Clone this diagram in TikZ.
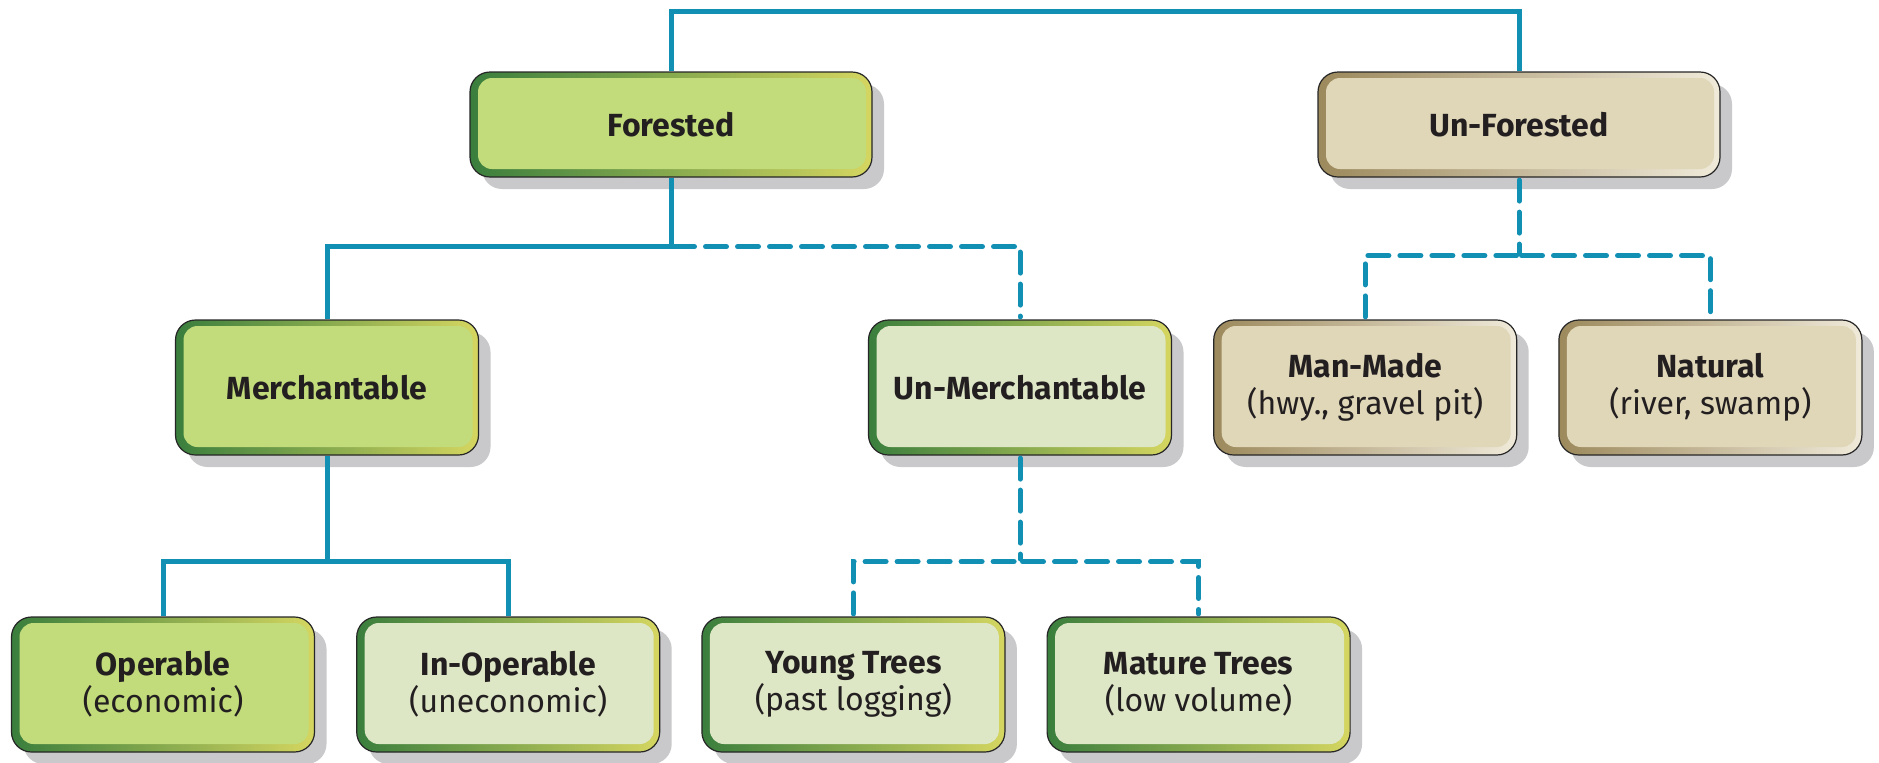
\documentclass[tikz,border=0pt]{standalone}
\usepackage{fontspec}
\setmainfont{Fira Sans}
\usetikzlibrary{positioning, shadows}
\usepackage{xcolor}

\definecolor{linkblue}{HTML}{1190B4}
\definecolor{textdark}{HTML}{231F20}
\definecolor{shadowgray}{HTML}{C9C9CB}
\definecolor{ringgreenL}{HTML}{3A7E3D}
\definecolor{ringgreenR}{HTML}{D5D660}
\definecolor{ringtanL}{HTML}{9C895C}
\definecolor{ringtanR}{HTML}{F0EADA}
\definecolor{filldark}{HTML}{C2DC7B}
\definecolor{filllight}{HTML}{DDE6C5}
\definecolor{filltan}{HTML}{E0D7B9}

\begin{document}
\begin{tikzpicture}[
    x=0.5pt, y=-0.5pt,
    node distance=20.5pt,
    box/.style={rectangle, draw=black!85, line width=0.6pt, rounded corners=10pt, inner sep=0pt, align=center,
        font=\fontsize{16}{18.5}\selectfont, text=textdark,
        drop shadow={shadow xshift=6pt, shadow yshift=-6pt, fill=shadowgray, opacity=1}},
    wide/.style={minimum width=201pt, minimum height=52.5pt},
    small/.style={minimum width=151.5pt, minimum height=67.5pt},
    inset/.style={path picture={\fill[#1, rounded corners=7pt]
        ([xshift=4pt,yshift=4pt]path picture bounding box.south west) rectangle
        ([xshift=-3pt,yshift=-3pt]path picture bounding box.north east);}},
    darkbox/.style={box, left color=ringgreenL, right color=ringgreenR, inset=filldark},
    lightbox/.style={box, left color=ringgreenL, right color=ringgreenR, inset=filllight},
    tanbox/.style={box, left color=ringtanL, right color=ringtanR, inset=filltan},
    line/.style={draw=linkblue, line width=2.5pt},
    dashline/.style={line, line cap=round, dash pattern=on 10.5pt off 5.5pt, shorten >=1.25pt, shorten <=1.25pt}
]
\useasboundingbox (0,0) rectangle (1879,762);

% top level
\node[darkbox, wide] (forested) at (671,124.5) {\bfseries Forested};
\node[tanbox, wide] (unforested) at (1519,124.5) {\bfseries Un-Forested};

% middle level
\node[darkbox, small] (merch) at (327,387.5) {\bfseries Merchantable};
\node[lightbox, small] (unmerch) at (1020,387.5) {\bfseries Un-Merchantable};
\node[tanbox, small, right=of unmerch] (manmade) {\textbf{Man-Made}\\(hwy., gravel pit)};
\node[tanbox, small, right=of manmade] (natural) {\textbf{Natural}\\(river, swamp)};

% bottom level
\node[darkbox, small] (operable) at (163,684.5) {\textbf{Operable}\\(economic)};
\node[lightbox, small, right=of operable] (inoperable) {\textbf{In-Operable}\\(uneconomic)};
\node[lightbox, small, right=of inoperable] (young) {\textbf{Young Trees}\\(past logging)};
\node[lightbox, small, right=of young] (mature) {\textbf{Mature Trees}\\(low volume)};

% joints
\coordinate[below=34.5pt of forested.south] (fjoin);
\coordinate[below=39pt of unforested.south] (ujoin);
\coordinate[below=53pt of merch.south] (mjoin);
\coordinate[below=53pt of unmerch.south] (njoin);

\draw[line] (forested.north) -- ++(0,-60) -| (unforested.north);
\draw[line] (forested.south) -- (fjoin) -| (merch.north);
\draw[dashline] (fjoin) -| (unmerch.north);
\draw[dashline] (unforested.south) -- (ujoin);
\draw[dashline] (manmade.north) |- (ujoin);
\draw[dashline] (ujoin) -| (natural.north);
\draw[line] (merch.south) -- (mjoin) -| (operable.north);
\draw[line] (mjoin) -| (inoperable.north);
\draw[dashline] (unmerch.south) -- (njoin);
\draw[dashline] (young.north) |- (njoin);
\draw[dashline] (njoin) -| (mature.north);

\end{tikzpicture}
\end{document}
